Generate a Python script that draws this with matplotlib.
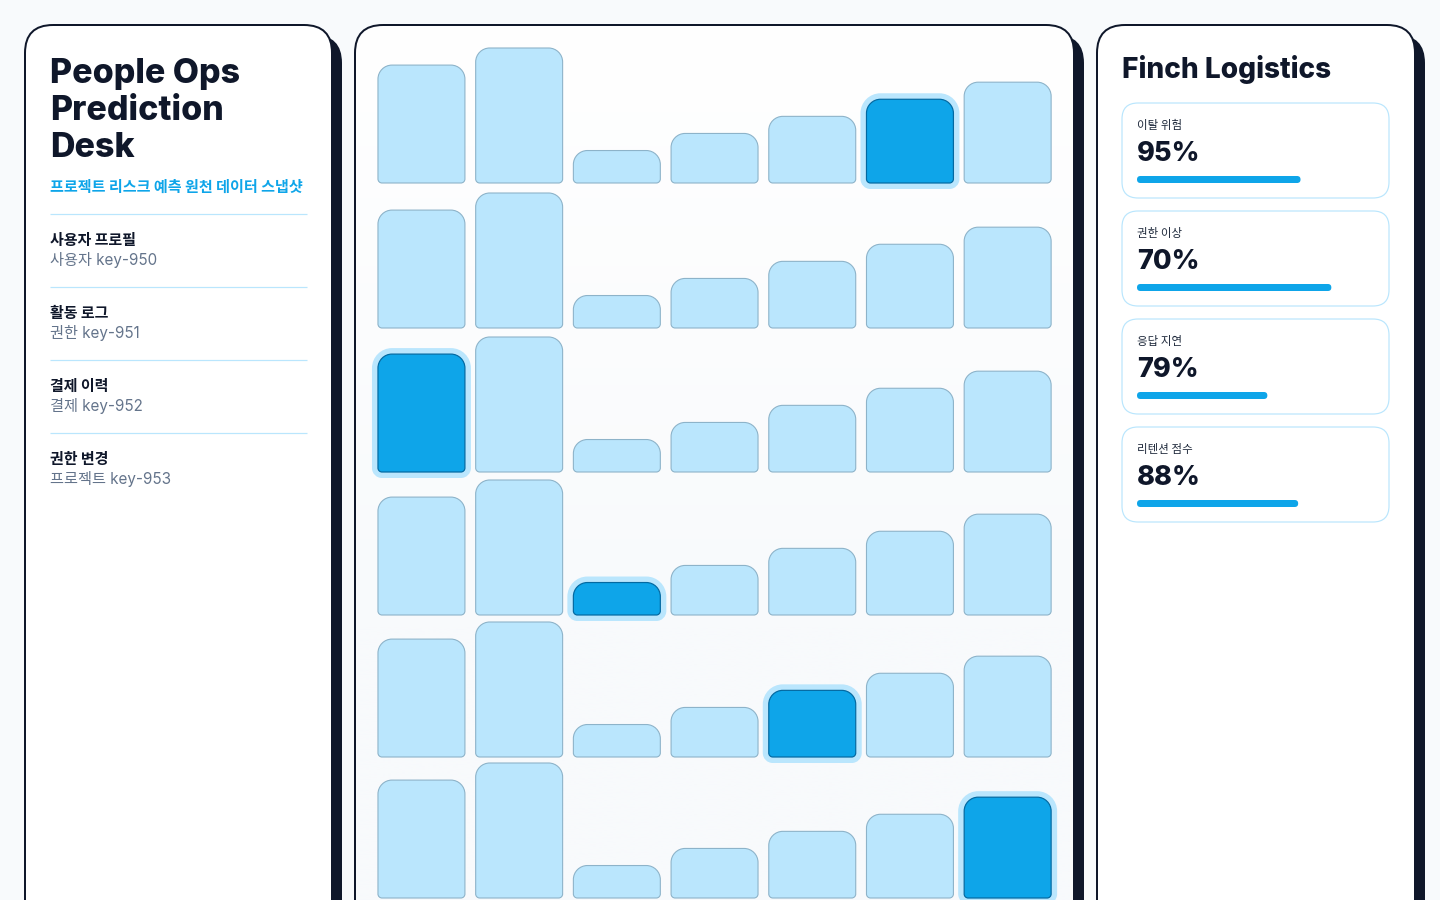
import matplotlib
matplotlib.use("Agg")
import matplotlib.pyplot as plt
import numpy as np
from matplotlib.patches import FancyBboxPatch, PathPatch
from matplotlib.path import Path

# --- chart data -------------------------------------------------------------
BAR_VALUES = [69, 79, 19, 29, 39, 49, 59]          # same 7 bars repeated per row
ROW_HIGHLIGHT = [5, None, 0, 2, 4, 6]              # highlighted bar index per row
TITLE_LINES = ["People Ops", "Prediction", "Desk"]
SUBTITLE = "프로젝트 리스크 예측 원천 데이터 스냅샷"
ITEM_TITLES = ["사용자 프로필", "활동 로그", "결제 이력", "권한 변경"]
ITEM_KEYS = ["사용자 key-950", "권한 key-951", "결제 key-952", "프로젝트 key-953"]
COMPANY = "Finch Logistics"
METRIC_LABELS = ["이탈 위험", "권한 이상", "응답 지연", "리텐션 점수"]
METRIC_VALUES = [95, 70, 79, 88]
METRIC_FILL = [0.69, 0.82, 0.55, 0.68]             # progress bar fill fraction

# --- style -------------------------------------------------------------------
W, H = 1440, 900
INK = "#0f172a"
GRAY = "#64748b"
SKY = "#0ea5e9"
SKY_DARK = "#0369a1"
PALE = "#bae6fd"
PALE_EDGE = "#8db3c9"
PAGE_BG = "#f8fafc"
FONT = ["Inter", "Noto Sans CJK KR", "DejaVu Sans"]
KFONT = ["Noto Sans CJK KR", "DejaVu Sans"]


def pt(px):
    """CSS-ish pixels -> points at dpi 100."""
    return px * 0.72


def rounded_path(x0, y0, w, h, rt, rb, sx, sy):
    """Rectangle path with top radius rt and bottom radius rb (pixels).

    sx, sy are pixels per data unit so corners stay circular on screen.
    """
    k = 0.5523
    x1, y1 = x0 + w, y0 + h
    rtx, rty = rt / sx, min(rt / sy, h / 2)
    rbx, rby = rb / sx, min(rb / sy, h / 2)
    verts = [
        (x0 + rbx, y0), (x1 - rbx, y0),
        (x1 - rbx + k * rbx, y0), (x1, y0 + rby - k * rby), (x1, y0 + rby),
        (x1, y1 - rty),
        (x1, y1 - rty + k * rty), (x1 - rtx + k * rtx, y1), (x1 - rtx, y1),
        (x0 + rtx, y1),
        (x0 + rtx - k * rtx, y1), (x0, y1 - rty + k * rty), (x0, y1 - rty),
        (x0, y0 + rby),
        (x0, y0 + rby - k * rby), (x0 + rbx - k * rbx, y0), (x0 + rbx, y0),
        (x0 + rbx, y0),
    ]
    codes = ([Path.MOVETO, Path.LINETO] + [Path.CURVE4] * 3 + [Path.LINETO]
             + [Path.CURVE4] * 3 + [Path.LINETO] + [Path.CURVE4] * 3
             + [Path.LINETO] + [Path.CURVE4] * 3 + [Path.CLOSEPOLY])
    return Path(verts, codes)


fig = plt.figure(figsize=(W / 100, H / 100), dpi=100)
fig.patch.set_facecolor(PAGE_BG)

bg = fig.add_axes([0, 0, 1, 1])
bg.set_xlim(0, W)
bg.set_ylim(H, 0)
bg.axis("off")


def panel(x0, x1, top=25, gradient=False):
    shadow = FancyBboxPatch((x0 + 10, top + 10), x1 - x0, 960,
                            boxstyle="round,pad=0,rounding_size=28",
                            fc=INK, ec="none", zorder=1)
    body = FancyBboxPatch((x0, top), x1 - x0, 960,
                          boxstyle="round,pad=0,rounding_size=28",
                          fc="white", ec="none", zorder=2)
    bg.add_patch(shadow)
    bg.add_patch(body)
    if gradient:
        grad = np.linspace(0, 1, 256).reshape(-1, 1)
        c0 = np.array([1.0, 1.0, 1.0])
        c1 = np.array([0xf8, 0xfa, 0xfc]) / 255
        img = c0 + (c1 - c0) * np.clip(grad * 1.6, 0, 1)[..., None]
        im = bg.imshow(img.reshape(256, 1, 3), extent=(x0, x1, top + 960, top),
                       aspect="auto", zorder=2.5, interpolation="bilinear")
        im.set_clip_path(body)
    border = FancyBboxPatch((x0, top), x1 - x0, 960,
                            boxstyle="round,pad=0,rounding_size=28",
                            fc="none", ec=INK, lw=pt(2), zorder=3)
    bg.add_patch(border)
    bg.set_xlim(0, W)
    bg.set_ylim(H, 0)


panel(25, 332)
panel(355, 1074, gradient=True)
panel(1097, 1415)

# --- left panel: title, subtitle, source list ---------------------------------
for i, line in enumerate(TITLE_LINES):
    bg.text(50, 83 + i * 37, line, family=FONT, fontweight=800,
            fontsize=pt(34), color=INK, va="baseline", zorder=5)
bg.text(50, 187, SUBTITLE, family=KFONT, fontweight="bold", fontsize=pt(15.1),
        color=SKY, va="center", zorder=5)
for i, (title, key) in enumerate(zip(ITEM_TITLES, ITEM_KEYS)):
    y = 214 + i * 73
    bg.plot([50, 307], [y, y], color=PALE, lw=pt(1.2), zorder=4,
            solid_capstyle="butt")
    bg.text(50, y + 26, title, family=KFONT, fontweight="bold",
            fontsize=pt(15), color=INK, va="center", zorder=5)
    bg.text(50, y + 46, key, family=FONT, fontsize=pt(15.2),
            color=GRAY, va="center", zorder=5)

# --- right panel: metric cards -----------------------------------------------
bg.text(1122, 70, COMPANY, family=FONT, fontweight=800, fontsize=pt(28),
        color=INK, va="center", zorder=5)
TRACK_W = 237
for i, (lab, val, frac) in enumerate(zip(METRIC_LABELS, METRIC_VALUES, METRIC_FILL)):
    top = 103 + i * 108
    bg.add_patch(FancyBboxPatch((1122, top), 267, 95,
                                boxstyle="round,pad=0,rounding_size=16",
                                fc="white", ec=PALE, lw=pt(1.2), zorder=4))
    bg.text(1137, top + 22, lab, family=KFONT, fontsize=pt(11.5),
            color="#1e293b", va="center", zorder=5)
    bg.text(1137, top + 58, f"{val}%", family=FONT, fontweight=800,
            fontsize=pt(27), color=INK, va="baseline", zorder=5)
    bg.add_patch(FancyBboxPatch((1137, top + 73), TRACK_W * frac, 7,
                                boxstyle="round,pad=0,rounding_size=3.5",
                                fc=SKY, ec="none", zorder=5))

# --- middle panel: rows of rounded bars ---------------------------------------
ROW_BASE = [183, 328, 472, 615, 757, 898]   # pixel y of each row's baseline
ROW_H = 143
COL_STEP = 97.7
AX_LEFT = 372.6
BAR_PX_MAX = 135
ymax = max(BAR_VALUES) * ROW_H / BAR_PX_MAX
xs = np.arange(len(BAR_VALUES))

for base, hi in zip(ROW_BASE, ROW_HIGHLIGHT):
    ax = fig.add_axes([AX_LEFT / W, (H - base) / H,
                       COL_STEP * len(BAR_VALUES) / W, ROW_H / H])
    ax.set_xlim(-0.5, len(BAR_VALUES) - 0.5)
    ax.set_ylim(0, ymax)
    ax.axis("off")
    ax.patch.set_alpha(0)
    sx = COL_STEP                 # px per x unit
    sy = ROW_H / ymax             # px per y unit
    bars = ax.bar(xs, BAR_VALUES, width=0.89)
    for j, rect in enumerate(bars):
        x0, w, h = rect.get_x(), rect.get_width(), rect.get_height()
        rect.remove()
        if j == hi:
            px6x, px6y = 6 / sx, 6 / sy
            halo = rounded_path(x0 - px6x, -px6y, w + 2 * px6x, h + 2 * px6y,
                                20, 10, sx, sy)
            ax.add_patch(PathPatch(halo, fc=PALE, ec="none", clip_on=False,
                                   zorder=2))
            ax.add_patch(PathPatch(rounded_path(x0, 0, w, h, 14, 4, sx, sy),
                                   fc=SKY, ec=SKY_DARK, lw=pt(1.2),
                                   clip_on=False, zorder=3))
        else:
            ax.add_patch(PathPatch(rounded_path(x0, 0, w, h, 14, 4, sx, sy),
                                   fc=PALE, ec=PALE_EDGE, lw=pt(1.1),
                                   clip_on=False, zorder=3))

fig.savefig("out.png", dpi=100, facecolor=fig.get_facecolor())
